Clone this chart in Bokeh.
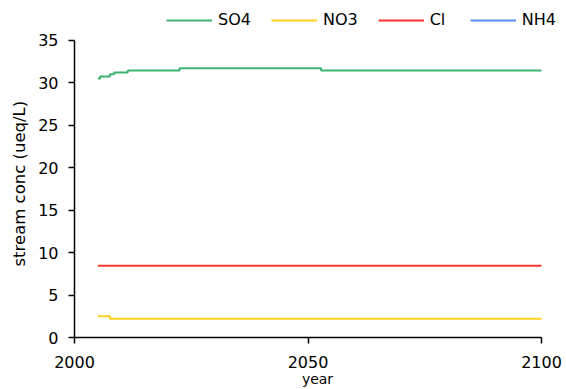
from bokeh.plotting import figure
from bokeh.models import Range1d, FixedTicker, Legend, LegendItem, ColumnDataSource, Title
from bokeh.embed import file_html
from bokeh.resources import INLINE

# ---- data ----
so4_years = [2005, 2005.5, 2007.6, 2008.5, 2011.4, 2022.5, 2052.8, 2100]
so4_vals = [30.5, 30.75, 31.0, 31.2, 31.45, 31.7, 31.45, 31.45]
no3_years = [2005, 2007.6, 2100]
no3_vals = [2.5, 2.2, 2.2]
cl_years = [2005, 2100]
cl_vals = [8.45, 8.45]
nh4_years = [2005, 2100]
nh4_vals = [float("nan"), float("nan")]  # not visible in the reference

x_ticks = [2000, 2050, 2100]
x_axis_min, x_axis_max = 2000, 2100
y_ticks = [0, 5, 10, 15, 20, 25, 30, 35]
y_axis_max = 35

names = ["SO4", "NO3", "Cl", "NH4"]
colors = ["#3cb371", "#ffd21f", "#ff3333", "#5b8ff9"]

FONT = "DejaVu Sans"

# frame extends beyond the axes (legend room); axes are bounded to the data extent
top_border = 4
right_border = 6
px_per_y = (339 - 40) / 35.0
px_per_x = (541 - 74) / 100.0
y_top = y_axis_max + (40 - top_border) / px_per_y
x_right = x_axis_max + (566 - right_border - 541) / px_per_x

p = figure(width=566, height=389, output_backend="svg", toolbar_location=None,
           x_range=Range1d(x_axis_min, x_right), y_range=Range1d(0, y_top),
           min_border_left=74, min_border_right=right_border, min_border_top=top_border,
           min_border_bottom=389 - 339)

p.grid.visible = False
p.outline_line_color = None
p.background_fill_color = "white"
p.border_fill_color = "white"

series = [(so4_years, so4_vals), (no3_years, no3_vals), (cl_years, cl_vals), (nh4_years, nh4_vals)]
items = []
for (xs, ys), name, col in zip(series, names, colors):
    src = ColumnDataSource(dict(x=xs, y=ys))
    r = p.step("x", "y", source=src, mode="after", line_color=col, line_width=2)
    items.append(LegendItem(label=name, renderers=[r]))

legend = Legend(items=items, orientation="horizontal", location=(92, 308),
                glyph_width=46, glyph_height=14, label_height=14, label_standoff=6,
                spacing=20, padding=0, margin=0, border_line_alpha=0, background_fill_alpha=0,
                label_text_font=FONT, label_text_font_size="16px", label_text_color="#000000")
p.add_layout(legend, "center")

for ax in (p.xaxis[0], p.yaxis[0]):
    ax.axis_line_color = "black"
    ax.axis_line_width = 1.5
    ax.major_tick_line_color = "black"
    ax.major_tick_line_width = 1.5
    ax.major_tick_in = 0
    ax.major_tick_out = 6
    ax.minor_tick_line_color = None
    ax.major_label_text_font = FONT
    ax.major_label_text_font_size = "16px"
    ax.major_label_text_color = "black"
    ax.axis_label_text_font = FONT
    ax.axis_label_text_font_style = "normal"
    ax.axis_label_text_color = "black"

p.xaxis.ticker = FixedTicker(ticks=x_ticks)
p.yaxis.ticker = FixedTicker(ticks=y_ticks)
p.xaxis.bounds = (x_axis_min, x_axis_max)
p.yaxis.bounds = (0, y_axis_max)
p.xaxis.axis_label = "year"
p.xaxis.axis_label_text_font_size = "14px"
p.xaxis.major_label_standoff = 12
p.xaxis.axis_label_standoff = 0
p.yaxis.major_label_standoff = 10

ylab = Title(text="stream conc (ueq/L)", align="left", offset=71, standoff=14,
             text_font=FONT, text_font_size="16.5px", text_font_style="normal",
             text_color="black")
p.add_layout(ylab, "left")

open("out.html", "w").write(file_html(p, INLINE))
